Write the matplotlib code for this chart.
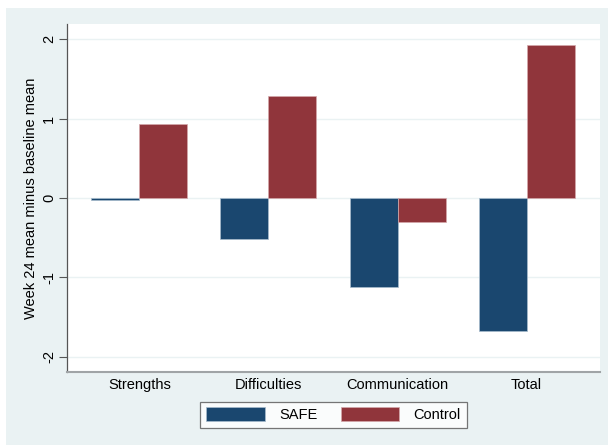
import numpy as np
import matplotlib
matplotlib.use('Agg')
import matplotlib.pyplot as plt
from matplotlib.patches import Rectangle

categories = ['Strengths', 'Difficulties', 'Communication', 'Total']
safe = [-0.03, -0.52, -1.12, -1.68]
control = [0.93, 1.29, -0.30, 1.92]

plt.rcParams['font.family'] = ['Liberation Sans', 'DejaVu Sans']

fig = plt.figure(figsize=(6.08, 4.45), dpi=100)
fig.patch.set_facecolor('white')
fig.patches.append(Rectangle((6 / 608, 0), 1, 1 - 8 / 445, transform=fig.transFigure,
                             facecolor='#EAF2F3', edgecolor='none', zorder=-10))

ax = fig.add_axes([67 / 608, 1 - 372 / 445, 533 / 608, 348 / 445])
ax.set_facecolor('white')

x = np.arange(len(categories))
w = 0.372
ax.bar(x - w / 2, safe, w, color='#1A476F', edgecolor='#A8BCCD', linewidth=0.5, label='SAFE', zorder=3)
ax.bar(x + w / 2, control, w, color='#90353B', edgecolor='#D4A8AB', linewidth=0.5, label='Control', zorder=3)

ax.set_xlim(-0.56, 3.568)
ax.set_ylim(-2.19, 2.19)
ax.set_yticks([-2, -1, 0, 1, 2])
ax.set_yticklabels(['-2', '-1', '0', '1', '2'], rotation=90, va='center', fontsize=10.5)
ax.set_xticks(x)
ax.set_xticklabels(categories, fontsize=10.5)
ax.tick_params(axis='x', length=0, pad=4)
ax.tick_params(axis='y', length=5.5, width=0.8, color='#555555', pad=2.5)
ax.grid(axis='y', color='#EAF2F3', linewidth=1, zorder=1)
ax.set_ylabel('Week 24 mean minus baseline mean', fontsize=10.5, labelpad=3)

for s in ['top', 'right']:
    ax.spines[s].set_visible(False)
ax.spines['left'].set_color('#555555')
ax.spines['left'].set_linewidth(0.9)
ax.spines['bottom'].set_color('#A0A4A6')
ax.spines['bottom'].set_linewidth(1.5)

leg = ax.legend(loc='upper center', bbox_to_anchor=(0.5, -0.085), ncol=2,
                fontsize=10.5, frameon=True, fancybox=False, handlelength=4.0,
                handleheight=1.1, columnspacing=1.6, handletextpad=1.0,
                borderpad=0.4, borderaxespad=0)
leg.get_frame().set_edgecolor('#555555')
leg.get_frame().set_linewidth(0.9)

fig.savefig('out.png', dpi=100, facecolor=fig.get_facecolor())
